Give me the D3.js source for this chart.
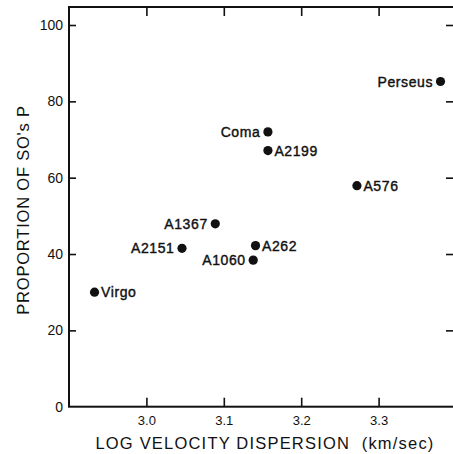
<!DOCTYPE html>
<html>
<head>
<meta charset="utf-8">
<script src="https://cdn.jsdelivr.net/npm/d3@7"></script>
<style>
  html, body { margin: 0; padding: 0; background: #fff; }
  svg { display: block; }
  text { font-family: "Liberation Sans", Arial, sans-serif; fill: #111; }
</style>
</head>
<body>
<svg id="chart" width="453" height="454"></svg>
<script>
// ---- data ----
const clusters = ["Virgo", "A2151", "A1367", "A1060", "A262", "Coma", "A2199", "A576", "Perseus"];
const logVelocityDispersion = [2.933, 3.046, 3.089, 3.138, 3.141, 3.157, 3.157, 3.272, 3.380];
const proportionS0 = [30.0, 41.5, 47.9, 38.4, 42.2, 72.0, 67.1, 57.9, 85.2];
const xTicks = [3.0, 3.1, 3.2, 3.3];
const xTickLabels = ["3.0", "3.1", "3.2", "3.3"];
const yTicks = [0, 20, 40, 60, 80, 100];
const xTitle = "LOG VELOCITY DISPERSION  (km/sec)";
const yTitle = "PROPORTION OF SO's P";

(function () {
// ---- layout ----
const svg = d3.select("#chart");
const mLeft = 69, mRight = 456, mTop = 7, mBottom = 406.7;

const x = d3.scaleLinear().domain([2.9, 3.4]).range([mLeft, mRight]);
const y = d3.scaleLinear().domain([0, 100]).range([mBottom, mBottom - 100 * 3.817]);

// frame
svg.append("rect")
  .attr("x", mLeft).attr("y", mTop)
  .attr("width", mRight - mLeft).attr("height", mBottom - mTop)
  .attr("fill", "none").attr("stroke", "#111").attr("stroke-width", 2);

// bottom axis with labels, inward ticks
const xAxis = d3.axisBottom(x).tickValues(xTicks)
  .tickFormat((d, i) => xTickLabels[i])
  .tickSizeInner(-9).tickSizeOuter(0).tickPadding(9);
const gx = svg.append("g").attr("transform", `translate(0,${mBottom})`).call(xAxis);
gx.select(".domain").remove();
gx.selectAll("line").attr("stroke", "#111").attr("stroke-width", 1.6);
gx.selectAll("text").attr("font-size", 13).style("font-family", "Liberation Sans, Arial, sans-serif").attr("fill", "#111");

// top axis, inward ticks, no labels
const xAxisTop = d3.axisTop(x).tickValues(xTicks).tickFormat("")
  .tickSizeInner(-9).tickSizeOuter(0);
const gxt = svg.append("g").attr("transform", `translate(0,${mTop})`).call(xAxisTop);
gxt.select(".domain").remove();
gxt.selectAll("line").attr("stroke", "#111").attr("stroke-width", 1.6);

// left axis with labels, inward ticks
const yAxis = d3.axisLeft(y).tickValues(yTicks).tickFormat(d3.format("d"))
  .tickSizeInner(-7).tickSizeOuter(0).tickPadding(6);
const gy = svg.append("g").attr("transform", `translate(${mLeft},0)`).call(yAxis);
gy.select(".domain").remove();
gy.selectAll("line").attr("stroke", "#111").attr("stroke-width", 1.6);
gy.selectAll(".tick").filter(d => d === 0).select("line").remove();
gy.selectAll("text").attr("font-size", 14).style("font-family", "Liberation Sans, Arial, sans-serif").attr("fill", "#111");

// right axis, inward ticks, no labels
const yAxisRight = d3.axisRight(y).tickValues(yTicks).tickFormat("")
  .tickSizeInner(-10).tickSizeOuter(0);
const gyr = svg.append("g").attr("transform", `translate(${mRight},0)`).call(yAxisRight);
gyr.select(".domain").remove();
gyr.selectAll("line").attr("stroke", "#111").attr("stroke-width", 1.6);
gyr.selectAll(".tick").filter(d => d === 0).select("line").remove();

// axis titles
svg.append("text")
  .attr("x", 265).attr("y", 449)
  .attr("text-anchor", "middle")
  .attr("font-size", 16.5)
  .attr("letter-spacing", 1.2)
  .style("white-space", "pre")
  .text(xTitle);

svg.append("text")
  .attr("transform", `translate(29,210) rotate(-90)`)
  .attr("text-anchor", "middle")
  .attr("font-size", 16.5)
  .attr("letter-spacing", 0.8)
  .text(yTitle);

// points
const data = clusters.map((name, i) => ({ name, lx: logVelocityDispersion[i], p: proportionS0[i] }));
const leftLabeled = new Set(["A2151", "A1367", "A1060", "Coma", "Perseus"]);

const pts = svg.append("g");
pts.selectAll("circle").data(data).join("circle")
  .attr("cx", d => x(d.lx)).attr("cy", d => y(d.p))
  .attr("r", 4.6).attr("fill", "#111");

pts.selectAll("text").data(data).join("text")
  .attr("x", d => x(d.lx) + (leftLabeled.has(d.name) ? -7.5 : 6.5))
  .attr("y", d => y(d.p))
  .attr("dy", "0.36em")
  .attr("text-anchor", d => leftLabeled.has(d.name) ? "end" : "start")
  .attr("font-size", 14)
  .attr("letter-spacing", 0.6)
  .attr("stroke", "#111")
  .attr("stroke-width", 0.4)
  .text(d => d.name);
})();
</script>
</body>
</html>
